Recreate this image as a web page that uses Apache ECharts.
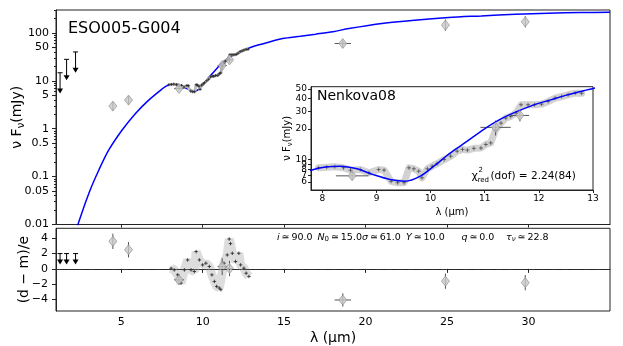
<!DOCTYPE html>
<html lang="en">
<head>
<meta charset="UTF-8">
<title>ESO005-G004</title>
<script src="https://cdn.jsdelivr.net/npm/echarts@6/dist/echarts.min.js"></script>
<style>html,body{margin:0;padding:0;background:#fff}</style>
</head>
<body>
<div id="sed" style="width:623px;height:346px"></div>
<script>
// model SED (blue curve), mJy
var modelWl   = [2.33, 2.37, 3.02, 3.63, 4.24, 5.06, 5.88, 6.69, 7.55, 7.79, 8.08, 8.33, 8.64, 8.94, 9.25, 9.53, 9.81, 10.06, 10.36, 10.67, 10.99, 11.29, 11.6, 11.91, 12.22, 12.53, 12.84, 13.02, 14.0, 14.9, 16.0, 16.94, 18.0, 18.98, 21.0, 23.0, 25.1, 27.1, 29.2, 31.2, 33.2, 35.0];
var modelFlux = [0.009, 0.0106, 0.045, 0.137, 0.36, 0.94, 2.08, 3.95, 6.9, 7.85, 8.47, 8.6, 8.1, 7.1, 6.35, 6.1, 6.85, 8.6, 11.6, 15.1, 20, 25.1, 29.9, 34.7, 38.9, 43.6, 48.1, 50.8, 63, 76, 85, 94, 106, 123, 157, 184, 209, 226, 245, 257, 266, 268];

// IRS spectrum
var specWl   = [7.93, 8.08, 8.23, 8.39, 8.52, 8.70, 8.86, 9.04, 9.14, 9.27, 9.39, 9.51, 9.60, 9.69, 9.78, 9.84, 9.94, 10.03, 10.12, 10.25, 10.37, 10.49, 10.59, 10.68, 10.80, 10.93, 11.02, 11.11, 11.20, 11.30, 11.39, 11.48, 11.58, 11.67, 11.80, 11.92, 12.05, 12.17, 12.30, 12.42, 12.54, 12.67, 12.79];
var specFlux = [8.28, 8.4, 8.5, 8.3, 7.85, 7.97, 7.4, 7.97, 7.85, 6.1, 5.9, 5.9, 8.28, 8.1, 7.67, 6.6, 8.1, 8.6, 9.1, 10.0, 10.8, 12.1, 12.6, 12.4, 12.9, 13.0, 14.1, 14.6, 19.7, 22.9, 25.7, 26.7, 28.9, 34.8, 34.8, 34.8, 35.3, 37.5, 40.5, 42.0, 43.7, 45.3, 45.3];

// photometry
var photWl    = [4.49, 5.45, 8.55, 11.2, 11.65, 18.6, 24.9, 29.8];
var photWlErr = [0, 0, 0.3, 0.28, 0.17, 0.5, 0, 0];
var photFlux  = [2.96, 3.95, 6.9, 20.8, 27.3, 60, 145, 170];
var photLo    = [2.4, 3.2, 6.3, 17.3, 23.8, 49, 110, 130];
var photHi    = [3.6, 4.8, 7.5, 24.3, 30.8, 72, 190, 222];

// upper limits (J, H, K)
var limWl  = [1.25, 1.65, 2.2];
var limTop = [14.7, 28, 40];
var limTip = [5.4, 10.3, 14.7];

// residuals (d-m)/e
var resWl  = [8.06, 8.26, 8.47, 8.67, 8.88, 9.08, 9.29, 9.49, 9.6, 9.8, 10.0, 10.2, 10.41, 10.57, 10.72, 10.86, 11.02, 11.12, 11.31, 11.51, 11.63, 11.71, 11.82, 12.02, 12.22, 12.33, 12.53, 12.67, 12.84];
var resVal = [0.09, -0.13, -0.78, -1.86, -0.13, 1.17, -0.13, -0.34, 2.26, 1.17, 0.52, 0.74, 0.31, -0.78, -1.64, -2.29, -2.5, -2.72, 0.74, 1.82, 3.9, 3.3, 2.04, 0.96, 2.04, 0.52, 0.09, -0.56, -0.99];
var photRes    = [3.6, 2.5, -1.43, 0.3, 0.05, -4.06, -1.6, -1.8];
var photResErr = [1.0, 1.0, 0.65, 1.1, 1.0, 0.87, 1.0, 1.0];
var limResTop = [2, 2, 2];
var limResTip = [0.57, 0.57, 0.57];

// ticks
var fluxTicks  = [0.01, 0.05, 0.1, 0.5, 1, 5, 10, 50, 100];
var insetTicks = [5, 6, 7, 8, 9, 10, 20, 30, 40, 50];
var wlTicks    = [5, 10, 15, 20, 25, 30];
var insetWlTicks = [8, 9, 10, 11, 12, 13];
var resTicks   = [-4, -2, 0, 2, 4];

var minorTicks = [];
[0.01, 0.1, 1, 10, 100].forEach(function (d) {
    for (var k = 2; k <= 9; k++) if (d * k <= 300) minorTicks.push(+(d * k).toPrecision(3));
});

var FONT = 'DejaVu Sans';
var chart = echarts.init(document.getElementById('sed'));

function zip(a, b) { return a.map(function (v, i) { return [v, b[i]]; }); }

var photData = photWl.map(function (w, i) {
    return [w, photFlux[i], w - photWlErr[i], w + photWlErr[i], photLo[i], photHi[i]];
});
var photResData = photWl.map(function (w, i) {
    return [w, photRes[i], w - photWlErr[i], w + photWlErr[i], photRes[i] - photResErr[i], photRes[i] + photResErr[i]];
});
var insetPhot = photData.filter(function (d) { return d[0] > 7.8 && d[0] < 13; });

function errBar(params, api) {
    var c = api.coord([api.value(0), api.value(1)]);
    var l = api.coord([api.value(2), api.value(1)]);
    var r = api.coord([api.value(3), api.value(1)]);
    var b = api.coord([api.value(0), api.value(4)]);
    var t = api.coord([api.value(0), api.value(5)]);
    var st = { stroke: '#555', lineWidth: 1 };
    return { type: 'group', children: [
        { type: 'line', shape: { x1: l[0], y1: c[1], x2: r[0], y2: c[1] }, style: st },
        { type: 'line', shape: { x1: c[0], y1: b[1], x2: c[0], y2: t[1] }, style: st }
    ] };
}

function upLim(params, api) {
    var t = api.coord([api.value(0), api.value(1)]);
    var p = api.coord([api.value(0), api.value(2)]);
    var st = { stroke: '#000', lineWidth: 1 };
    return { type: 'group', children: [
        { type: 'line', shape: { x1: t[0], y1: t[1], x2: p[0], y2: p[1] - 4 }, style: st },
        { type: 'line', shape: { x1: t[0] - 2.5, y1: t[1], x2: t[0] + 2.5, y2: t[1] }, style: st },
        { type: 'polygon', shape: { points: [[p[0] - 3, p[1] - 5], [p[0] + 3, p[1] - 5], [p[0], p[1]]] }, style: { fill: '#000' } }
    ] };
}

var plus = 'path://M5,0V10M0,5H10';
var diamond = { symbol: 'diamond', symbolSize: [8, 10], itemStyle: { color: '#c8c8c8', borderColor: '#8a8a8a', borderWidth: 0.8 } };

function ann(left, text) {
    return { type: 'text', left: left, top: 232.5, z: 10, style: {
        text: text, font: '9.5px "DejaVu Sans"', fill: '#000',
        rich: {
            i: { fontStyle: 'italic', fontSize: 9.5, fontFamily: FONT },
            s: { fontSize: 7, fontFamily: FONT, verticalAlign: 'bottom', lineHeight: 7 },
            si: { fontStyle: 'italic', fontSize: 7, fontFamily: FONT, verticalAlign: 'bottom', lineHeight: 7 }
        } } };
}

var option = {
    animation: false,
    textStyle: { fontFamily: FONT },
    grid: [
        { left: 56, top: 10, width: 554, height: 214.5, show: true, borderColor: '#222', borderWidth: 1, containLabel: false, outerBoundsMode: 'none' },
        { left: 56, top: 228.3, width: 554, height: 82.7, show: true, borderColor: '#222', borderWidth: 1, containLabel: false, outerBoundsMode: 'none' },
        { left: 311, top: 86.7, width: 282, height: 103.3, show: true, borderColor: '#222', borderWidth: 1, backgroundColor: '#fff', z: 3, containLabel: false, outerBoundsMode: 'none' }
    ],
    xAxis: [
        { gridIndex: 0, type: 'value', min: 1, max: 35,
          axisLine: { lineStyle: { color: '#222' } }, splitLine: { show: false },
          axisTick: { customValues: wlTicks, length: 3, lineStyle: { color: '#222' } },
          axisLabel: { show: false } },
        { gridIndex: 1, type: 'value', min: 1, max: 35,
          name: 'λ (µm)', nameLocation: 'middle', nameGap: 20, nameMoveOverlap: false,
          nameTextStyle: { fontFamily: FONT, fontSize: 14, color: '#000' },
          axisLine: { lineStyle: { color: '#222' } }, splitLine: { show: false },
          axisTick: { customValues: wlTicks, length: 4, lineStyle: { color: '#222' } },
          axisLabel: { customValues: wlTicks, fontFamily: FONT, fontSize: 11, color: '#000', margin: 6 } },
        { gridIndex: 2, type: 'value', min: 7.79, max: 13, z: 4,
          name: 'λ (µm)', nameLocation: 'middle', nameGap: 17, nameMoveOverlap: false,
          nameTextStyle: { fontFamily: FONT, fontSize: 10, color: '#000' },
          axisLine: { lineStyle: { color: '#222' } }, splitLine: { show: false },
          axisTick: { customValues: insetWlTicks, length: 3, lineStyle: { color: '#222' } },
          axisLabel: { customValues: insetWlTicks, fontFamily: FONT, fontSize: 9, color: '#000', margin: 4 } }
    ],
    yAxis: [
        { gridIndex: 0, type: 'log', min: 0.01, max: 300, position: 'left',
          name: '{a|ν F}{s|ν}{a|(mJy)}', nameLocation: 'middle', nameGap: 30, nameMoveOverlap: false,
          nameTextStyle: { rich: {
              a: { fontFamily: FONT, fontSize: 14, color: '#000', lineHeight: 18 },
              s: { fontFamily: FONT, fontSize: 10, color: '#000', lineHeight: 10, verticalAlign: 'bottom' } } },
          axisLine: { lineStyle: { color: '#222' } }, splitLine: { show: false },
          axisTick: { customValues: fluxTicks, length: 4, lineStyle: { color: '#222' } },
          axisLabel: { customValues: fluxTicks, fontFamily: FONT, fontSize: 11, color: '#000', margin: 7 } },
        { gridIndex: 0, type: 'log', min: 0.01, max: 300, position: 'left', offset: 0,
          axisLine: { show: false }, splitLine: { show: false },
          axisTick: { customValues: minorTicks, length: 2, lineStyle: { color: '#222' } },
          axisLabel: { show: false } },
        { gridIndex: 1, type: 'value', min: -5.5, max: 5.3,
          name: '(d − m)/e', nameLocation: 'middle', nameGap: 25, nameMoveOverlap: false,
          nameTextStyle: { fontFamily: FONT, fontSize: 14, color: '#000' },
          axisLine: { lineStyle: { color: '#222' } }, splitLine: { show: false },
          axisTick: { customValues: resTicks, length: 4, lineStyle: { color: '#222' } },
          axisLabel: { customValues: resTicks, fontFamily: FONT, fontSize: 11, color: '#000', margin: 8,
                       formatter: function (v) { return String(v).replace('-', '−'); } } },
        { gridIndex: 2, type: 'log', min: 5, max: 52.5, z: 4,
          name: '{a|ν F}{s|ν}{a|(mJy)}', nameLocation: 'middle', nameGap: 17, nameMoveOverlap: false,
          nameTextStyle: { rich: {
              a: { fontFamily: FONT, fontSize: 10, color: '#000', lineHeight: 13 },
              s: { fontFamily: FONT, fontSize: 7, color: '#000', lineHeight: 7, verticalAlign: 'bottom' } } },
          axisLine: { lineStyle: { color: '#222' } }, splitLine: { show: false },
          axisTick: { customValues: insetTicks, length: 3, lineStyle: { color: '#222' } },
          axisLabel: { customValues: insetTicks, hideOverlap: false, fontFamily: FONT, fontSize: 9, color: '#000', margin: 4 } }
    ],
    graphic: [
        { type: 'text', left: 68, top: 21, z: 10, style: { text: 'ESO005-G004', font: '16px "DejaVu Sans"', fill: '#000' } },
        { type: 'text', left: 317, top: 89, z: 10, style: { text: 'Nenkova08', font: '14px "DejaVu Sans"', fill: '#000' } },
        { type: 'text', left: 471.5, top: 170.5, z: 10, style: { text: 'χ', font: '11px "DejaVu Sans"', fill: '#000' } },
        { type: 'text', left: 478.5, top: 166.5, z: 10, style: { text: '2', font: '7px "DejaVu Sans"', fill: '#000' } },
        { type: 'text', left: 477.5, top: 176.5, z: 10, style: { text: 'red', font: '7px "DejaVu Sans"', fill: '#000' } },
        { type: 'text', left: 490.5, top: 171, z: 10, style: { text: '(dof) = 2.24(84)', font: '10.5px "DejaVu Sans"', fill: '#000' } },
        ann(277, '{i|i}\u2009≃\u200990.0'),
        ann(317.5, '{i|N}{s|0}\u2009≃\u200915.0{i|σ}\u2009≃\u200961.0'),
        ann(406, '{i|Y}\u2009≃\u200910.0'),
        ann(461.5, '{i|q}\u2009≃\u20090.0'),
        ann(506, '{i|τ}{si|ν}\u2009≃\u200922.8')
    ],
    series: [
        // main panel
        { type: 'line', xAxisIndex: 0, yAxisIndex: 0, data: zip(modelWl, modelFlux), showSymbol: false, smooth: 0.3,
          lineStyle: { color: '#0000ff', width: 1.5 }, z: 2 },
        { type: 'line', xAxisIndex: 0, yAxisIndex: 0, data: zip(specWl, specFlux), showSymbol: false,
          lineStyle: { color: '#bbb', width: 3 }, z: 2 },
        { type: 'scatter', xAxisIndex: 0, yAxisIndex: 0, data: zip(specWl, specFlux), symbol: plus, symbolSize: 3,
          itemStyle: { color: 'none', borderColor: '#222', borderWidth: 1 }, z: 3 },
        { type: 'custom', xAxisIndex: 0, yAxisIndex: 0, data: photData, renderItem: errBar, encode: { x: 0, y: 1 }, z: 3 },
        { type: 'scatter', xAxisIndex: 0, yAxisIndex: 0, data: zip(photWl, photFlux), symbol: diamond.symbol, symbolSize: diamond.symbolSize, itemStyle: diamond.itemStyle, z: 4 },
        { type: 'custom', xAxisIndex: 0, yAxisIndex: 0, data: limWl.map(function (w, i) { return [w, limTop[i], limTip[i]]; }),
          renderItem: upLim, encode: { x: 0, y: 1 }, z: 3 },
        // residual panel
        { type: 'line', xAxisIndex: 1, yAxisIndex: 2, data: zip(resWl, resVal), showSymbol: false,
          lineStyle: { color: 'rgba(180,180,180,0.45)', width: 9 }, z: 2,
          markLine: { silent: true, symbol: 'none', label: { show: false },
                      lineStyle: { color: '#333', width: 0.8, type: [6, 2, 1, 2] }, data: [{ yAxis: 0 }] } },
        { type: 'scatter', xAxisIndex: 1, yAxisIndex: 2, data: zip(resWl, resVal), symbol: plus, symbolSize: 3.5,
          itemStyle: { color: 'none', borderColor: '#222', borderWidth: 1 }, z: 3 },
        { type: 'custom', xAxisIndex: 1, yAxisIndex: 2, data: photResData, renderItem: errBar, encode: { x: 0, y: 1 }, z: 3 },
        { type: 'scatter', xAxisIndex: 1, yAxisIndex: 2, data: zip(photWl, photRes), symbol: diamond.symbol, symbolSize: diamond.symbolSize, itemStyle: diamond.itemStyle, z: 4 },
        { type: 'custom', xAxisIndex: 1, yAxisIndex: 2, data: limWl.map(function (w, i) { return [w, limResTop[i], limResTip[i]]; }),
          renderItem: upLim, encode: { x: 0, y: 1 }, z: 3 },
        // inset
        { type: 'line', xAxisIndex: 2, yAxisIndex: 3, data: zip(specWl, specFlux), showSymbol: false,
          lineStyle: { color: 'rgba(180,180,180,0.6)', width: 7, cap: 'round', join: 'round' }, z: 5 },
        { type: 'scatter', xAxisIndex: 2, yAxisIndex: 3, data: zip(specWl, specFlux), symbol: plus, symbolSize: 4,
          itemStyle: { color: 'none', borderColor: '#333', borderWidth: 0.8 }, z: 6 },
        { type: 'line', xAxisIndex: 2, yAxisIndex: 3, data: zip(modelWl, modelFlux), showSymbol: false, smooth: 0.3,
          lineStyle: { color: '#0000ff', width: 1.5 }, z: 7 },
        { type: 'custom', xAxisIndex: 2, yAxisIndex: 3, data: insetPhot, renderItem: errBar, encode: { x: 0, y: 1 }, z: 7 },
        { type: 'scatter', xAxisIndex: 2, yAxisIndex: 3, data: insetPhot.map(function (d) { return [d[0], d[1]]; }),
          symbol: diamond.symbol, symbolSize: diamond.symbolSize, itemStyle: diamond.itemStyle, z: 8 }
    ]
};
chart.setOption(option);
</script>
</body>
</html>
